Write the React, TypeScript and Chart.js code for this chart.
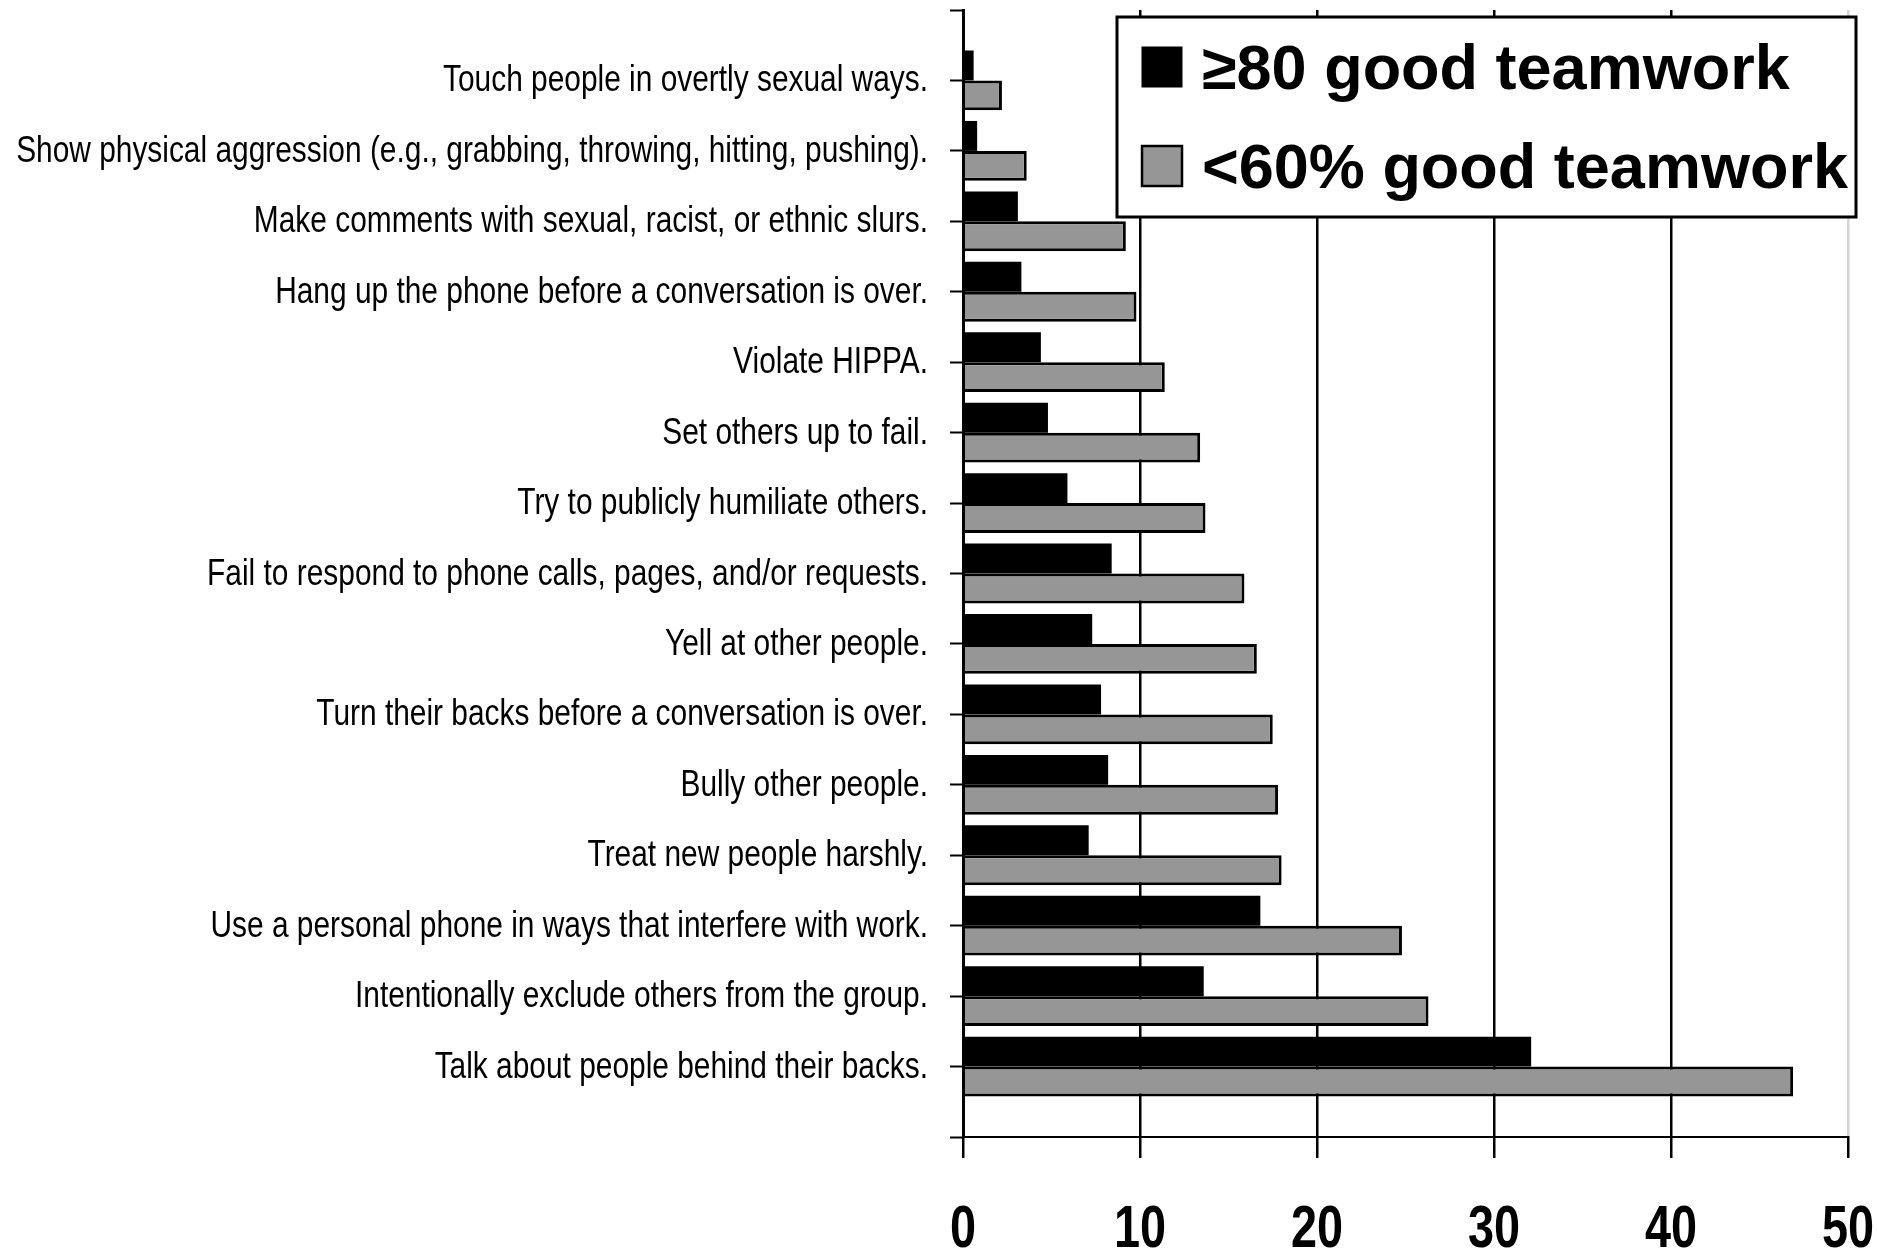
import { useEffect, useRef } from 'react';
import { Chart, registerables } from 'chart.js';

Chart.register(...registerables);

// Behaviours reported, top to bottom
const behaviours = [
  'Touch people in overtly sexual ways.',
  'Show physical aggression (e.g., grabbing, throwing, hitting, pushing).',
  'Make comments with sexual, racist, or ethnic slurs.',
  'Hang up the phone before a conversation is over.',
  'Violate HIPPA.',
  'Set others up to fail.',
  'Try to publicly humiliate others.',
  'Fail to respond to phone calls, pages, and/or requests.',
  'Yell at other people.',
  'Turn their backs before a conversation is over.',
  'Bully other people.',
  'Treat new people harshly.',
  'Use a personal phone in ways that interfere with work.',
  'Intentionally exclude others from the group.',
  'Talk about people behind their backs.',
];

// Percent reporting the behaviour, units with >=80% good teamwork
const highTeamwork = [0.6, 0.8, 3.1, 3.3, 4.4, 4.8, 5.9, 8.4, 7.3, 7.8, 8.2, 7.1, 16.8, 13.6, 32.1];
// Percent reporting the behaviour, units with <60% good teamwork
const lowTeamwork = [2.2, 3.6, 9.2, 9.8, 11.4, 13.4, 13.7, 15.9, 16.6, 17.5, 17.8, 18.0, 24.8, 26.3, 46.9];

const seriesNames = ['≥80 good teamwork', '<60% good teamwork'];
const seriesFill = ['#000000', '#969696'];
const xTickValues = [0, 10, 20, 30, 40, 50];

const FONT = '"Liberation Sans", Arial, sans-serif';

// Empty slots above and below give the axis its end tick marks
const slotLabels = ['', ...behaviours, ''];
const padSeries = (values: number[]) => [null, ...values, null];

// Draws text squeezed horizontally, anchored at (x, y)
function drawCondensed(
  ctx: CanvasRenderingContext2D,
  text: string,
  x: number,
  y: number,
  sx: number,
  align: 'left' | 'right' | 'center',
) {
  ctx.save();
  ctx.translate(x, y);
  ctx.scale(sx, 1);
  ctx.textAlign = align;
  ctx.fillText(text, 0, 0);
  ctx.restore();
}

// Axis labels in a narrow face: categories on the left, values below
const condensedTickLabels = {
  id: 'condensedTickLabels',
  afterDraw(chart: any) {
    const ctx = chart.ctx as CanvasRenderingContext2D;
    const yScale = chart.scales.y;
    const xScale = chart.scales.x;
    const area = chart.chartArea;
    ctx.save();
    ctx.fillStyle = '#000000';
    ctx.textBaseline = 'alphabetic';

    ctx.font = `36px ${FONT}`;
    const labels = chart.data.labels as string[];
    labels.forEach((label, i) => {
      if (!label) return;
      const py = yScale.getPixelForValue(i);
      drawCondensed(ctx, label, area.left - 35, py + 11, 0.83, 'right');
    });

    ctx.font = `bold 60px ${FONT}`;
    xScale.ticks.forEach((t: any) => {
      const px = xScale.getPixelForValue(t.value);
      drawCondensed(ctx, String(t.value), px, area.bottom + 110, 0.78, 'center');
    });
    ctx.restore();
  },
};

// Legend drawn as a bordered box in the upper right of the plot
const boxedLegend = {
  id: 'boxedLegend',
  afterDraw(chart: any) {
    const ctx = chart.ctx as CanvasRenderingContext2D;
    const area = chart.chartArea;
    const datasets = chart.data.datasets;
    ctx.save();
    ctx.font = `bold 63px ${FONT}`;
    const left = area.left + 154;
    const right = area.right + 8;
    const top = area.top + 7;
    const boxW = right - left;
    const boxH = 200;
    ctx.fillStyle = '#ffffff';
    ctx.fillRect(left, top, boxW, boxH);
    ctx.lineWidth = 3;
    ctx.strokeStyle = '#000000';
    ctx.strokeRect(left, top, boxW, boxH);
    const sq = 40;
    const rowStep = 99;
    datasets.forEach((d: any, i: number) => {
      const cy = top + 50 + i * rowStep;
      const sx = left + 25;
      ctx.fillStyle = d.backgroundColor;
      ctx.fillRect(sx, cy - sq / 2, sq, sq);
      ctx.lineWidth = i === 0 ? 1 : 2.5;
      ctx.strokeStyle = '#000000';
      ctx.strokeRect(sx, cy - sq / 2, sq, sq);
      ctx.fillStyle = '#000000';
      ctx.textAlign = 'left';
      ctx.textBaseline = 'alphabetic';
      ctx.fillText(d.label, sx + sq + 20, cy + 22);
    });
    ctx.restore();
  },
};

export default function App() {
  const canvasRef = useRef<HTMLCanvasElement | null>(null);

  useEffect(() => {
    document.body.style.margin = '0';
    const canvas = canvasRef.current;
    if (!canvas) return;
    const chart = new Chart(canvas, {
      type: 'bar',
      data: {
        labels: slotLabels,
        datasets: [
          {
            label: seriesNames[0],
            data: padSeries(highTeamwork),
            backgroundColor: seriesFill[0],
            borderColor: '#000000',
            borderWidth: 0,
          },
          {
            label: seriesNames[1],
            data: padSeries(lowTeamwork),
            backgroundColor: seriesFill[1],
            borderColor: '#000000',
            borderWidth: 3,
          },
        ],
      },
      options: {
        indexAxis: 'y',
        responsive: false,
        animation: false,
        layout: { padding: { top: 10, right: 29, left: 0, bottom: 0 } },
        datasets: { bar: { categoryPercentage: 0.85, barPercentage: 1 } },
        plugins: {
          legend: { display: false },
          tooltip: { enabled: false },
        },
        scales: {
          x: {
            type: 'linear',
            position: 'bottom',
            min: 0,
            max: 50,
            afterBuildTicks: (s: any) => {
              s.ticks = xTickValues.map((v) => ({ value: v }));
            },
            ticks: { display: false },
            grid: {
              color: (c: any) => (c.tick && c.tick.value === 50 ? '#d4d4d4' : '#000000'),
              lineWidth: 2.5,
              tickLength: 21,
              tickColor: '#000000',
              tickWidth: 2.5,
            },
            border: { display: true, color: '#000000', width: 2 },
            afterFit: (s: any) => {
              s.height = 115;
              s.paddingLeft = 0;
              s.paddingRight = 0;
            },
          },
          y: {
            type: 'category',
            offset: false,
            ticks: { display: false, autoSkip: false },
            grid: {
              display: true,
              drawOnChartArea: false,
              offset: false,
              tickLength: 13,
              tickColor: '#000000',
              tickWidth: 2,
            },
            border: { display: true, color: '#000000', width: 3, z: 1 },
            afterFit: (s: any) => {
              s.width = 963;
              s.paddingTop = 0;
              s.paddingBottom = 0;
            },
          },
        },
      } as any,
      plugins: [condensedTickLabels, boxedLegend],
    });
    return () => chart.destroy();
  }, []);

  return <canvas ref={canvasRef} width={1877} height={1252} style={{ display: 'block' }} />;
}
